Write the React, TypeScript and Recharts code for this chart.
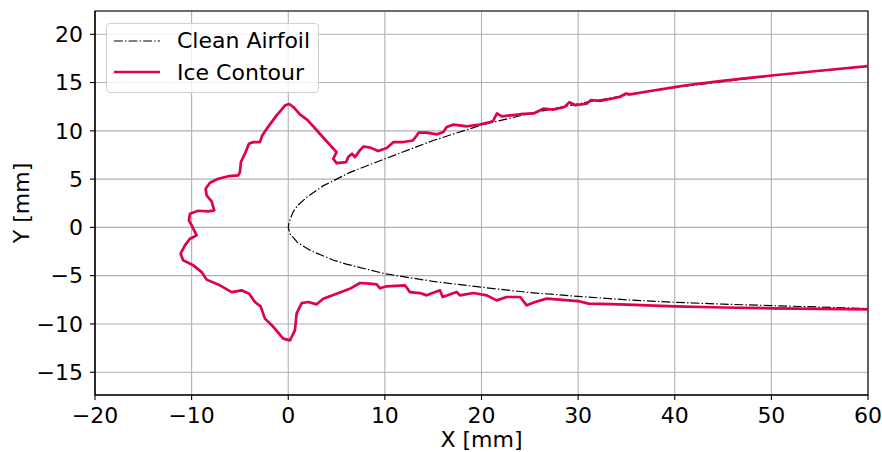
import {
    LineChart,
    Line,
    XAxis,
    YAxis,
    CartesianGrid,
    Legend,
    ReferenceArea,
    Label,
} from 'recharts';

const xTicks = [-20, -10, 0, 10, 20, 30, 40, 50, 60];
const yTicks = [-15, -10, -5, 0, 5, 10, 15, 20];
const xDomain = [-20, 60];
const yDomain = [-17.36, 22.41];

// clean airfoil: upper surface trailing -> nose, then lower surface nose -> trailing
const airfoilX = [
    60, 55, 50, 45, 40, 35, 30, 25, 20, 15, 10, 6.4, 5, 3.6, 2, 1, 0.5, 0.1, 0,
    0.2, 1, 2.3, 4.7, 6, 10, 15, 20, 25, 30, 35, 40, 45, 50, 55, 60,
];
const airfoilY = [
    16.7, 16.2, 15.7, 15.1, 14.5, 13.7, 12.8, 11.8, 10.6, 9.0, 7.1, 5.7, 5.0, 4.3, 3.2, 2.3, 1.6, 0.6, 0,
    -0.7, -1.6, -2.4, -3.4, -3.8, -4.8, -5.6, -6.2, -6.75, -7.15, -7.5, -7.76, -7.95, -8.1, -8.25, -8.4,
];

// ice contour, same direction
const iceX = [
    60, 55, 50, 47, 44.7, 41.2, 40, 37, 35.4, 34.96, 34.3, 32.3, 31.3, 30.9, 29.7, 29.1, 28.6, 27.4,
    26.4, 25.4, 24, 23.3, 22.1, 21.6, 21.2, 20.9, 19.8, 18.5, 17.1, 16.4, 16.05, 15.4, 14.3, 13.5,
    13.3, 12.9, 11.9, 10.9, 10.2, 9.3, 8.5, 7.8, 7.4, 6.9, 6.6, 6.2, 6.0, 5.0, 4.66, 5.0, 3.8, 2.6,
    2.0, 1.2, 0.6, 0.1, -0.3, -0.6, -1.2, -1.72, -2.24, -2.69, -2.93, -3.62, -4.07, -4.48, -4.9, -5.0,
    -5.18, -6.2, -7.25, -8.1, -8.55, -8.45, -7.93, -7.66, -8.28, -9.32, -10.17, -10.28, -10.0, -9.48,
    -10.17, -10.69, -11.14, -10.87, -9.83, -8.96, -8.45, -7.07, -5.86, -4.83, -4.04, -3.45, -2.86,
    -2.41, -1.55, -0.52, 0.18, 0.69, 0.87, 1.39, 2.07, 2.94, 3.62, 5.0, 6.5, 7.42, 8.46, 9.15, 9.49,
    10.19, 12.08, 12.6, 13.63, 14.33, 15.7, 15.98, 17.43, 17.77, 19.15, 20.54, 21.57, 22.6, 24.0,
    24.68, 25.54, 26.75, 30.0, 31.06, 34.3, 40, 45, 50, 55, 60,
];
const iceY = [
    16.7, 16.22, 15.73, 15.4, 15.14, 14.72, 14.52, 14.05, 13.77, 13.86, 13.5, 13.1, 13.17, 12.82, 12.65,
    12.97, 12.47, 12.2, 12.3, 11.8, 11.72, 11.63, 11.5, 11.8, 11.02, 10.92, 10.65, 10.47, 10.64, 10.4,
    9.88, 9.64, 9.82, 9.82, 9.52, 9.0, 8.84, 8.84, 8.22, 7.9, 8.26, 8.38, 7.97, 7.28, 7.63, 7.28, 6.76,
    6.66, 7.11, 7.8, 9.1, 10.45, 11.1, 11.7, 12.4, 12.78, 12.65, 12.3, 11.6, 10.9, 10.2, 9.52, 8.83,
    8.83, 8.66, 7.63, 6.76, 5.72, 5.38, 5.3, 5.04, 4.62, 4.0, 3.31, 2.69, 1.76, 1.66, 1.72, 1.42, 0.72,
    0.2, -0.83, -1.17, -1.86, -2.72, -3.42, -3.93, -4.63, -5.41, -6.0, -6.7, -6.52, -6.87, -7.73,
    -8.18, -9.45, -10.3, -11.52, -11.7, -10.66, -8.9, -7.84, -7.73, -7.97, -7.4, -6.87, -6.3, -5.76,
    -5.83, -5.9, -6.31, -6.1, -6.0, -6.7, -6.8, -7.04, -6.52, -7.21, -6.7, -7.04, -6.8, -7.04, -7.56,
    -7.21, -7.21, -8.07, -7.73, -7.38, -7.63, -7.9, -7.97, -8.18, -8.3, -8.38, -8.45, -8.5,
];

const airfoil = airfoilX.map((x, i) => ({ x, y: airfoilY[i] }));
const ice = iceX.map((x, i) => ({ x, y: iceY[i] }));

const FONT = 'DejaVu Sans';
const FS = 22;
const tickStyle = { fontSize: FS, fill: '#000', fontFamily: FONT };
const fmt = (v: number) => (v < 0 ? '\u2212' + Math.abs(v) : String(v));

const LegendBox = ({ payload }: any) => (
    <div
        style={{
            width: 213,
            height: 70,
            boxSizing: 'border-box',
            border: '1px solid #d0d0d0',
            borderRadius: 4,
            background: 'rgba(255,255,255,0.8)',
            padding: '1px 0 0 7px',
            fontFamily: FONT,
            fontSize: FS,
            color: '#000',
        }}
    >
        {(payload || []).map((entry: any) => (
            <div key={entry.value} style={{ display: 'flex', alignItems: 'center', height: 31.7 }}>
                <svg width={46} height={10}>
                    <line
                        x1={0}
                        y1={5}
                        x2={46}
                        y2={5}
                        stroke={entry.color}
                        strokeWidth={entry.payload?.strokeWidth}
                        strokeDasharray={entry.payload?.strokeDasharray}
                    />
                </svg>
                <span style={{ marginLeft: 17 }}>{entry.value}</span>
            </div>
        ))}
    </div>
);

const YLabel = ({ viewBox }: any) => {
    const cx = viewBox.x + 29;
    const cy = viewBox.y + viewBox.height / 2;
    return (
        <text
            x={cx}
            y={cy}
            transform={`rotate(-90, ${cx}, ${cy})`}
            textAnchor="middle"
            fontSize={FS}
            fontFamily={FONT}
            fill="#000"
        >
            Y [mm]
        </text>
    );
};

export default function App() {
    return (
        <div style={{ position: 'absolute', left: 0, top: 0, width: 882, height: 452, background: '#fff' }}>
            <LineChart width={882} height={452} margin={{ top: 11, right: 14, bottom: 0, left: 0 }}>
                <CartesianGrid stroke="#b0b0b0" strokeWidth={1.1} />
                <XAxis
                    type="number"
                    dataKey="x"
                    domain={xDomain}
                    ticks={xTicks}
                    allowDataOverflow
                    height={57}
                    tickSize={5}
                    tickMargin={7}
                    tick={tickStyle}
                    tickFormatter={fmt}
                    axisLine={{ stroke: '#000', strokeWidth: 1.1 }}
                    tickLine={{ stroke: '#000', strokeWidth: 1.1 }}
                >
                    <Label
                        value="X [mm]"
                        position="insideBottom"
                        offset={5}
                        style={{ fontSize: FS, fontFamily: FONT, fill: '#000' }}
                    />
                </XAxis>
                <YAxis
                    type="number"
                    dataKey="y"
                    domain={yDomain}
                    ticks={yTicks}
                    allowDataOverflow
                    width={95}
                    tickSize={5}
                    tickMargin={7}
                    tick={tickStyle}
                    tickFormatter={fmt}
                    axisLine={{ stroke: '#000', strokeWidth: 1.1 }}
                    tickLine={{ stroke: '#000', strokeWidth: 1.1 }}
                    label={<YLabel />}
                />
                <Legend
                    layout="vertical"
                    align="center"
                    verticalAlign="middle"
                    content={<LegendBox />}
                    wrapperStyle={{ left: 106, top: 22.7, width: 'auto' }}
                />
                <Line
                    data={airfoil}
                    dataKey="y"
                    name="Clean Airfoil"
                    type="linear"
                    stroke="#000"
                    strokeWidth={1.2}
                    strokeDasharray="8.8 2.2 1.4 2.2"
                    dot={false}
                    activeDot={false}
                    isAnimationActive={false}
                />
                <Line
                    data={ice}
                    dataKey="y"
                    name="Ice Contour"
                    type="linear"
                    stroke="#e0004e"
                    strokeWidth={2.7}
                    strokeLinejoin="round"
                    dot={false}
                    activeDot={false}
                    isAnimationActive={false}
                />
                <ReferenceArea
                    x1={xDomain[0]}
                    x2={xDomain[1]}
                    y1={yDomain[0]}
                    y2={yDomain[1]}
                    fill="none"
                    stroke="#000"
                    strokeWidth={1.1}
                />
            </LineChart>
        </div>
    );
}
